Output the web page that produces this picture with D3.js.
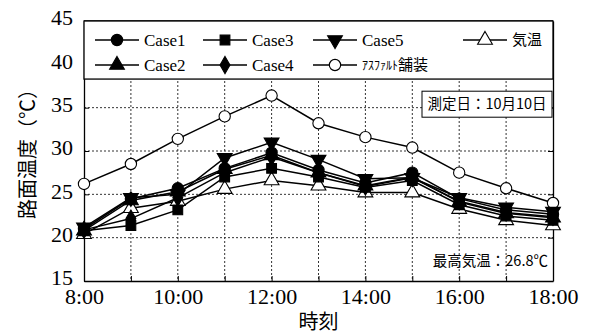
<!DOCTYPE html>
<html>
<head>
<meta charset="utf-8">
<script src="https://cdn.jsdelivr.net/npm/d3@7"></script>
<style>
  body { margin: 0; background: #fff; }
  svg text { fill: #000; }
</style>
</head>
<body>
<div id="chart"></div>
<script>
// hours of the day (x values) and tick labels
const hours = [8, 9, 10, 11, 12, 13, 14, 15, 16, 17, 18];
const xTickValues = [8, 10, 12, 14, 16, 18];
const yTickValues = [15, 20, 25, 30, 35, 40, 45];

// road surface temperatures (°C)
const case1 = [21.0, 24.5, 25.7, 28.0, 29.8, 27.8, 26.3, 27.5, 24.5, 23.2, 22.7];
const case2 = [20.8, 24.3, 25.3, 27.9, 29.5, 27.5, 26.0, 27.0, 24.1, 22.8, 22.3];
const case3 = [20.8, 21.4, 23.2, 27.0, 28.0, 27.0, 25.8, 26.6, 23.8, 22.5, 22.0];
const case4 = [20.9, 22.2, 24.6, 27.5, 29.3, 27.5, 25.9, 26.9, 24.2, 22.9, 22.4];
const case5 = [21.2, 24.6, 25.0, 29.2, 31.0, 29.0, 26.8, 26.9, 24.6, 23.5, 23.0];
const asphalt = [26.2, 28.5, 31.4, 34.0, 36.4, 33.2, 31.6, 30.4, 27.5, 25.7, 24.0];
const airTemp = [20.4, 23.4, 24.2, 25.6, 26.6, 26.0, 25.2, 25.2, 23.3, 22.0, 21.4];

const seriesNames = ['Case1', 'Case2', 'Case3', 'Case4', 'Case5', 'ｱｽﾌｧﾙﾄ舗装', '気温'];

const width = 599, height = 335;
const margin = {top: 21, right: 46, bottom: 54, left: 84};
const innerW = width - margin.left - margin.right;
const innerH = height - margin.top - margin.bottom;

const svg = d3.select('#chart').append('svg')
  .attr('width', width)
  .attr('height', height);

const g = svg.append('g')
  .attr('transform', `translate(${margin.left},${margin.top})`);

const x = d3.scaleLinear().domain([8, 18]).range([0, innerW]);
const y = d3.scaleLinear().domain([15, 45]).range([innerH, 0]);

const serif = 'Liberation Serif';
const jp = 'Noto Sans CJK JP';

// dotted grid
g.append('g')
  .selectAll('line')
  .data(hours.slice(1, -1))
  .join('line')
  .attr('x1', d => x(d)).attr('x2', d => x(d))
  .attr('y1', 0).attr('y2', innerH)
  .attr('stroke', '#333').attr('stroke-width', 1)
  .attr('stroke-dasharray', '2,2');

g.append('g')
  .selectAll('line')
  .data([20, 25, 30, 35, 40])
  .join('line')
  .attr('x1', 0).attr('x2', innerW)
  .attr('y1', d => y(d)).attr('y2', d => y(d))
  .attr('stroke', '#333').attr('stroke-width', 1)
  .attr('stroke-dasharray', '2,2');

// axes (ticks pointing inward)
const xAxis = g.append('g')
  .attr('transform', `translate(0,${innerH})`)
  .call(d3.axisBottom(x).tickValues(hours).tickSizeInner(-5).tickSizeOuter(0)
    .tickFormat(d => xTickValues.includes(d) ? d + ':00' : ''));
xAxis.attr('font-family', serif).attr('font-size', 22);
xAxis.selectAll('text').attr('dy', '0.95em').attr('y', 2);

const yAxis = g.append('g')
  .call(d3.axisLeft(y).tickValues(yTickValues).tickSizeInner(-5).tickSizeOuter(0));
yAxis.attr('font-family', serif).attr('font-size', 22);
yAxis.selectAll('text').attr('x', -11).attr('dy', '0.17em');

g.append('g')
  .attr('transform', `translate(${innerW},0)`)
  .call(d3.axisRight(y).tickValues(yTickValues).tickSizeInner(-5).tickSizeOuter(0).tickFormat(''));

g.selectAll('.domain').attr('stroke', '#000').attr('stroke-width', 1.3);
g.selectAll('.tick line').attr('stroke', '#000');

// top frame
g.append('line').attr('x1', 0).attr('x2', innerW).attr('y1', 0).attr('y2', 0)
  .attr('stroke', '#000').attr('stroke-width', 1.3);

// series
const series = [
  {name: seriesNames[6], values: airTemp, symbol: d3.symbolTriangle, size: 95, fill: '#fff', rot: 0},
  {name: seriesNames[5], values: asphalt, symbol: d3.symbolCircle, size: 100, fill: '#fff', rot: 0},
  {name: seriesNames[2], values: case3, symbol: d3.symbolSquare, size: 95, fill: '#000', rot: 0},
  {name: seriesNames[3], values: case4, symbol: d3.symbolDiamond, size: 85, fill: '#000', rot: 0},
  {name: seriesNames[1], values: case2, symbol: d3.symbolTriangle, size: 95, fill: '#000', rot: 0},
  {name: seriesNames[4], values: case5, symbol: d3.symbolTriangle, size: 95, fill: '#000', rot: 180},
  {name: seriesNames[0], values: case1, symbol: d3.symbolCircle, size: 100, fill: '#000', rot: 0}
];

const line = d3.line().x((d, i) => x(hours[i])).y(d => y(d));

series.forEach(s => {
  g.append('path')
    .datum(s.values)
    .attr('fill', 'none')
    .attr('stroke', '#000')
    .attr('stroke-width', 1.5)
    .attr('d', line);
});
series.forEach(s => {
  g.append('g')
    .selectAll('path')
    .data(s.values)
    .join('path')
    .attr('d', d3.symbol().type(s.symbol).size(s.size))
    .attr('transform', (d, i) => `translate(${x(hours[i])},${y(d)}) rotate(${s.rot})`)
    .attr('fill', s.fill)
    .attr('stroke', '#000')
    .attr('stroke-width', 1.1);
});

// legend box
const legendH = y(38.3);
g.append('rect')
  .attr('x', 0).attr('y', 0)
  .attr('width', innerW).attr('height', legendH)
  .attr('fill', '#fff').attr('stroke', '#000').attr('stroke-width', 1.3);

const legendItems = [
  {name: seriesNames[0], symbol: d3.symbolCircle, size: 100, fill: '#000', rot: 0, lx: 11, ly: 19},
  {name: seriesNames[2], symbol: d3.symbolSquare, size: 95, fill: '#000', rot: 0, lx: 119, ly: 19},
  {name: seriesNames[4], symbol: d3.symbolTriangle, size: 95, fill: '#000', rot: 180, lx: 229, ly: 19},
  {name: seriesNames[6], symbol: d3.symbolTriangle, size: 95, fill: '#fff', rot: 0, lx: 379, ly: 19},
  {name: seriesNames[1], symbol: d3.symbolTriangle, size: 95, fill: '#000', rot: 0, lx: 11, ly: 44},
  {name: seriesNames[3], symbol: d3.symbolDiamond, size: 85, fill: '#000', rot: 0, lx: 119, ly: 44},
  {name: seriesNames[5], symbol: d3.symbolCircle, size: 100, fill: '#fff', rot: 0, lx: 229, ly: 44}
];

const lg = g.append('g').selectAll('g').data(legendItems).join('g')
  .attr('transform', d => `translate(${d.lx},${d.ly})`);
lg.append('line').attr('x1', 0).attr('x2', 44).attr('y1', 0).attr('y2', 0)
  .attr('stroke', '#000').attr('stroke-width', 1.5);
lg.append('path')
  .attr('d', d => d3.symbol().type(d.symbol).size(d.size)())
  .attr('transform', d => `translate(22,0) rotate(${d.rot})`)
  .attr('fill', d => d.fill).attr('stroke', '#000').attr('stroke-width', 1.1);
lg.append('text')
  .attr('x', 49).attr('y', 0).attr('dy', '0.33em')
  .attr('font-family', d => /Case/.test(d.name) ? serif : jp)
  .attr('font-size', d => /Case/.test(d.name) ? 17 : 15)
  .each(function(d) {
    const t = d3.select(this);
    if (d.name === seriesNames[5]) {
      t.append('tspan').attr('font-size', 12).text('ｱｽﾌｧﾙﾄ');
      t.append('tspan').text('舗装');
    } else {
      t.text(d.name);
    }
  });

// date box
const dateG = g.append('g').attr('transform', `translate(${innerW - 131},${y(36.9)})`);
dateG.append('rect').attr('width', 130).attr('height', 26)
  .attr('fill', '#fff').attr('stroke', '#000').attr('stroke-width', 1);
dateG.append('text').attr('x', 65).attr('y', 13).attr('dy', '0.35em')
  .attr('text-anchor', 'middle')
  .attr('font-family', jp).attr('font-size', 14.5)
  .text('測定日：10月10日');

// max temperature note
g.append('text')
  .attr('x', innerW - 5).attr('y', y(16.7))
  .attr('text-anchor', 'end')
  .attr('font-family', jp).attr('font-size', 14.5)
  .text('最高気温：26.8℃');

// axis titles
svg.append('text')
  .attr('transform', `translate(28,${margin.top + innerH / 2 - 2}) rotate(-90)`)
  .attr('text-anchor', 'middle').attr('dy', '0.35em')
  .attr('font-family', jp).attr('font-size', 20)
  .text('路面温度（℃）');

svg.append('text')
  .attr('x', margin.left + innerW / 2).attr('y', 329)
  .attr('text-anchor', 'middle')
  .attr('font-family', jp).attr('font-size', 20)
  .text('時刻');
</script>
</body>
</html>
